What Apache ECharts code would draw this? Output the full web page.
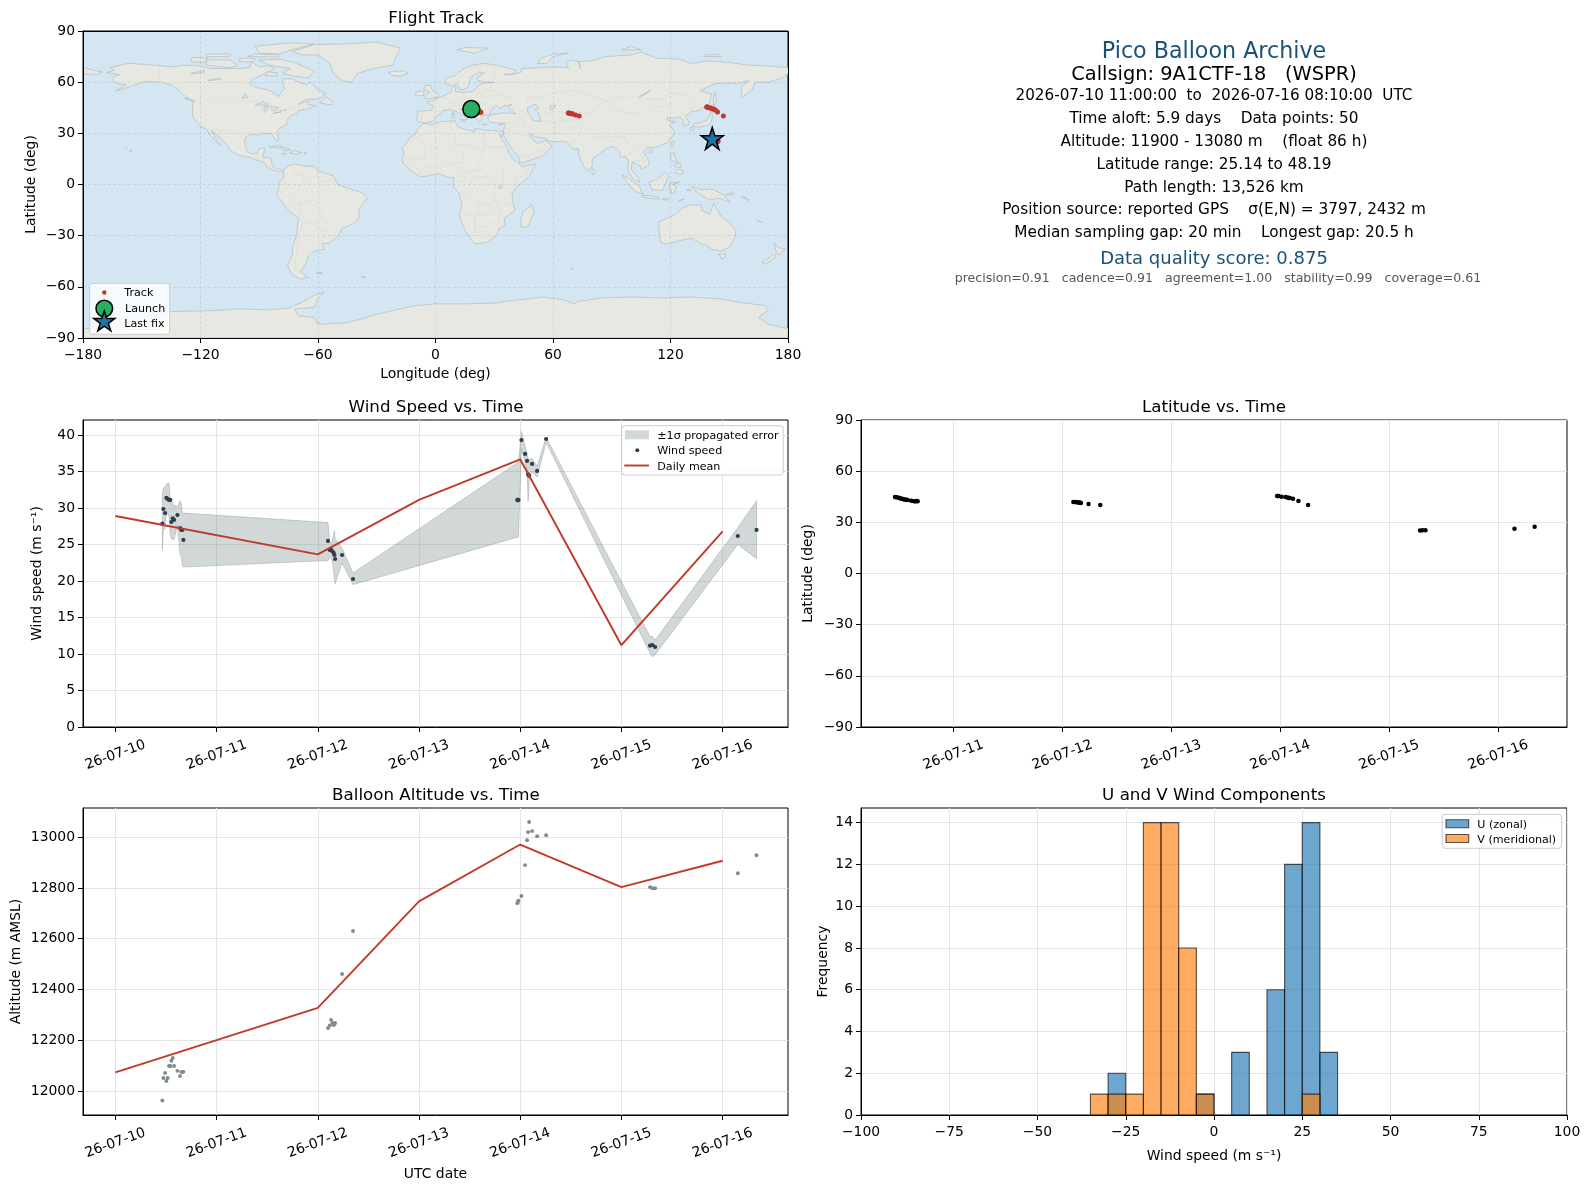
<!DOCTYPE html>
<html>
<head>
<meta charset="utf-8">
<title>Pico Balloon Archive</title>
<style>html,body{margin:0;padding:0;background:#fff}#c{width:1589px;height:1189px}</style>
<script src="https://cdn.jsdelivr.net/npm/echarts@6/dist/echarts.min.js"></script>
</head>
<body>
<div id="c"></div>
<script>
// ---------- time-series values (t = days since 26-07-10 00:00 UTC) ----------
const tDays = [.464,.474,.491,.504,.517,.530,.543,.553,.567,.580,.613,.639,.652,.662,.672,
  2.101,2.118,2.131,2.144,2.157,2.164,2.171,2.240,2.348,
  3.972,3.976,3.983,4.012,4.048,4.068,4.078,4.088,4.117,4.167,4.256,
  5.283,5.306,5.333,6.150,6.335];
const windSpeed = [27.85,29.86,29.3,31.37,31.23,31.1,31.1,28.08,28.58,28.36,29.04,27.26,26.99,26.99,25.62,
  25.48,24.25,24.25,24.06,23.84,23.56,23.01,23.56,20.27,
  31.1,31.05,31.1,39.3,37.4,36.44,34.6,34.4,36.03,35.07,39.45,
  11.14,11.23,10.96,26.16,26.99];
const windUpper = [31.8,32.7,32.9,33.3,33.4,33.4,31.0,30.8,30.7,30.4,30.2,31.0,30.6,29.3,29.3,
  28.0,25.2,25.2,25.6,26.4,26.9,25.8,24.5,21.1,
  36.2,36.3,36.4,40.5,38.45,37.5,36.8,36.6,36.85,35.7,39.7,
  12.4,12.4,11.9,27.3,31.0];
const windLower = [24.2,27.0,27.2,29.4,29.1,28.8,26.2,25.8,25.7,25.7,27.7,23.6,23.4,22.0,21.9,
  22.8,23.2,23.3,22.6,21.3,20.2,19.6,22.5,19.5,
  26.0,26.0,26.0,38.1,36.2,35.25,30.9,33.6,35.0,34.2,39.0,
  10.1,9.6,9.9,25.0,23.06];
const altitude = [11962,12051,12071,12039,12051,12098,12098,12119,12130,12098,12079,12059,12075,12075,12075,
  12248,12258,12280,12268,12260,12264,12268,12461,12630,
  12740,12745,12750,12768,12890,12988,13020,13060,13024,13004,13008,
  12803,12799,12799,12858,12929];
const latitude = [44.9,44.7,44.5,44.2,44.0,43.8,43.6,43.4,43.2,43.1,42.7,42.4,42.4,42.5,42.4,
  41.9,41.9,41.8,41.7,41.6,41.5,41.4,40.7,40.1,
  45.5,45.4,45.4,45.0,44.8,44.5,44.3,44.2,43.9,42.5,40.1,
  25.2,25.3,25.4,26.2,27.4];
const longitude = [18.0,18.4,18.8,19.2,19.6,20.0,20.4,20.8,21.2,21.6,22.0,22.4,22.7,23.0,23.2,
  67.8,68.1,68.5,68.9,69.3,69.7,70.0,71.5,73.4,
  138.5,138.7,139.0,139.7,140.5,141.0,141.5,141.9,142.8,144.0,147.0,
  143.9,144.1,144.3,142.0,141.0];
const launchFix = [18.3, 44.2];
const lastFix = [141.3, 27];
const meanWindDays = [0,2,3,4,5,6];
const meanWind = [28.9,23.65,31.1,36.67,11.2,26.8];
const meanAltDays = [0,2,3,4,5,6];
const meanAlt = [12073,12327,12747,12971,12803,12907];
// ---------- histogram ----------
const uBins = [[-30,-25,2],[-5,0,1],[5,10,3],[15,20,6],[20,25,12],[25,30,14],[30,35,3]];
const vBins = [[-35,-30,1],[-30,-25,1],[-25,-20,1],[-20,-15,14],[-15,-10,14],[-10,-5,8],[-5,0,1],[25,30,1]];
// ---------- ticks ----------
const dateTicks = [0,1,2,3,4,5,6];
const dateLabels = ['26-07-10','26-07-11','26-07-12','26-07-13','26-07-14','26-07-15','26-07-16'];
const latDateTicks = [1,2,3,4,5,6];
const windTicks = [0,5,10,15,20,25,30,35,40];
const altTicks = [12000,12200,12400,12600,12800,13000];
const freqTicks = [0,2,4,6,8,10,12,14];
// ---------- text ----------
const infoLines = [
 ['Pico Balloon Archive',22.2,'#1a5276',52.5,1214],
 ['Callsign: 9A1CTF-18   (WSPR)',19.4,'#000',75,1214],
 ['2026-07-10 11:00:00  to  2026-07-16 08:10:00  UTC',15.2,'#000',96,1214],
 ['Time aloft: 5.9 days    Data points: 50',15.3,'#000',119,1214],
 ['Altitude: 11900 - 13080 m    (float 86 h)',15.3,'#000',142,1214],
 ['Latitude range: 25.14 to 48.19',15.3,'#000',165,1214],
 ['Path length: 13,526 km',15.3,'#000',188,1214],
 ['Position source: reported GPS    σ(E,N) = 3797, 2432 m',15.3,'#000',210.5,1214],
 ['Median sampling gap: 20 min    Longest gap: 20.5 h',15.3,'#000',233.5,1214],
 ['Data quality score: 0.875',18,'#1a5276',259,1214],
 ['precision=0.91   cadence=0.91   agreement=1.00   stability=0.99   coverage=0.61',12.55,'#555',279,1218]
];
// ---------- base map outlines (lon, lat) ----------
const landPolygons = [
 // North America
 [[-168,65.5],[-164,67],[-166,68.5],[-157,71],[-150,70.5],[-141,69.7],[-135,69],[-128,70],[-120,69.5],[-115,68],[-108,68],[-100,68],[-95,68.5],[-94,72],[-90,69],[-85,69.5],[-82,68],[-87,65],[-93,62],[-95,59],[-92,57],[-85,55.3],[-82,53],[-80,51.5],[-79,54],[-77,56],[-78,59],[-78,62],[-73,62],[-70,60],[-66,58.5],[-64,60],[-61,56.5],[-56,53],[-60,50],[-66,50],[-70,47],[-65,49],[-65,47],[-61,46],[-66,44],[-70,43.5],[-71,41.5],[-74,40.5],[-76,37.5],[-76,35],[-79,33.5],[-81,31],[-80,26.5],[-81,25],[-82.5,27.5],[-84,30],[-89,30],[-90,29],[-94,29.5],[-97,28],[-97.5,24],[-96,19],[-94,18],[-91,18.5],[-90,21],[-87,21.5],[-88,17],[-88.5,16],[-84,15.5],[-83.5,12],[-83,10],[-80,9],[-77,8.5],[-78,7.5],[-80,7.5],[-83,8.5],[-86,10],[-87.5,13],[-92,14.5],[-95,16],[-100,17],[-105,20],[-106,23],[-109,26],[-112.5,30],[-114.5,31.5],[-112,27],[-110,23],[-112,25],[-115,29],[-117,32.5],[-120.5,34.5],[-122,37],[-124,40],[-124,46],[-123,49],[-127,51],[-130,54],[-134,58],[-140,60],[-148,60.5],[-152,59],[-158,56.5],[-163,55],[-158,58.5],[-162,59],[-165,61],[-164,63.5],[-161,64.5]],
 // Greenland
 [[-73,78],[-68,76],[-60,76],[-54,71],[-52,65],[-48,61],[-43,60],[-40,65],[-32,68],[-22,70],[-20,75],[-18,80],[-30,83.5],[-45,82.5],[-62,82]],
 // Arctic Canada
 [[-80,73.5],[-72,71.5],[-67,69],[-62,66.5],[-65,62.5],[-72,63.5],[-78,65],[-74,68],[-85,70],[-90,73]],
 [[-90,77],[-80,76.5],[-75,78.5],[-62,82.5],[-75,83],[-92,81]],
 [[-117,70],[-105,68.5],[-101,70],[-105,73],[-117,73]],
 [[-125,72],[-118,71.5],[-116,74],[-124,74.5]],
 [[-96,75],[-80,74.7],[-80,76],[-92,76.5]],
 [[-117,75],[-105,75],[-105,76.5],[-117,76.5]],
 [[-100,72],[-93,72],[-92,74],[-100,74]],
 [[-87,64],[-81,63.5],[-81,65.5],[-86,66]],
 [[-59,47.7],[-53,46.7],[-53,49],[-56,51.5]],
 [[-128,50.5],[-123.5,48.3],[-125,50]],
 // Caribbean, Pacific
 [[-85,22],[-80,23],[-74.2,20.2],[-77.7,19.9],[-78,21.5]],
 [[-74.4,18.5],[-72,20],[-68.5,18.6],[-71.5,17.8]],
 [[-78.3,18.3],[-76.3,18],[-77,17.8]],
 [[-67.2,18.5],[-65.7,18.4],[-66,18]],
 [[-156,19],[-155,19.7],[-156,20.2]],
 [[-158.2,21.3],[-157.7,21.6],[-158,21.7]],
 [[-61,-52],[-58,-51.5],[-58,-52.3]],
 // South America
 [[-77.5,8.5],[-75,11],[-72,12],[-68,11],[-62,10.5],[-60,8],[-52,5],[-50,0],[-44,-2.5],[-37,-5],[-35,-8],[-39,-14],[-39,-19],[-41,-22.5],[-48,-26],[-49,-29],[-54,-34.5],[-58,-34.5],[-57,-38],[-62,-39],[-65,-42],[-66,-46],[-69,-51],[-65,-54.5],[-69,-55.5],[-74,-52],[-75.5,-47],[-73,-41],[-73,-37],[-71,-30],[-70,-20],[-76,-14],[-81,-6],[-80,-2.5],[-80,1],[-77.5,4]],
 // Eurasia
 [[-9,37],[-9.5,38.7],[-9,43],[-2,43.5],[-1,46],[-4.5,48.5],[-1.5,49],[2,51],[4,52],[8,54],[8.5,57],[10.5,57.5],[10,54.5],[14,54],[19,54.5],[21,57],[24,59.3],[30,60],[25,60.3],[21.5,61],[21.5,63],[25,65.3],[22,65.8],[17.5,62.5],[17.5,60],[16.5,57],[14,55.5],[12.5,56],[11,59],[8,58],[5.5,59],[5,62],[10,64],[14,67.5],[19,70],[25,71],[31,70],[41,67],[40,65],[35,64.5],[38,64.2],[44,66],[44,68],[53,68.5],[60,69],[68,68.5],[67,71],[69,73],[73,72],[74,68],[73,72],[80,72.5],[87,75],[100,76],[105,77.7],[113,74],[125,73.5],[130,71],[140,72.5],[150,71.5],[160,70],[170,69.5],[180,68.5],[180,65],[177,62.5],[170,60],[163,60],[162,56],[156.5,51],[156,57],[160,61],[155,59.5],[143,59.3],[135,55],[141,53],[140,48],[135,43.5],[130,42.5],[127.5,39.7],[129.5,37],[129,35],[126.5,34.5],[126.5,37.5],[125,39.5],[121.5,39],[118,39],[119,37.3],[122.5,37],[119.5,35],[122,31],[121,28],[118,24.5],[113,22],[108,21.5],[106,19],[109,14],[109,11.5],[105,8.7],[105,10.5],[100.5,13.5],[100,9],[103.5,4],[104,1.3],[101,3],[98.3,8],[98.5,14],[97,16.5],[94.5,16],[94,19],[91,22.5],[87,21],[82,16.5],[80,15],[80,11],[78,8.2],[76,10],[73.5,16],[72.8,21],[70,21],[69,22.5],[67,25],[61,25.2],[57,25.5],[56.5,27],[51,28],[48.5,30],[48,29.5],[50,26],[52,24],[56,26],[59.5,22.5],[55,17],[52,15.7],[45,13],[43,13],[42.5,16],[39,21],[35,28],[34.5,31.5],[36,36],[32,36],[28,36.5],[26.5,39],[29,41],[35,42],[41,41.5],[38,44.5],[37,45],[39,47],[35,46],[33,44.5],[31,46.5],[28,43],[28,41.2],[26,40.8],[24,40.5],[23,40],[24,38],[22.5,36.5],[19.5,41],[19,42.5],[14,45.5],[12.5,44],[16,41.5],[18.5,40],[16.5,39.5],[16,38],[15,40],[10.5,43],[7,43.8],[3.5,43.3],[3,41.8],[0,39.5],[-0.5,38],[-2,36.8],[-5.5,36]],
 // Chukotka across the date line
 [[-180,68.5],[-175,67],[-170,66],[-173,64.5],[-180,65]],
 // Africa
 [[-6,35.8],[-2,35],[3,36.8],[10,37.3],[11,34],[15,32.3],[20,31],[20,32.8],[25,32],[32,31.2],[34.3,31.3],[34,28],[32.5,30],[33.5,27],[36,23],[37.5,18.5],[39.5,15],[43,12],[44.5,10.5],[51,12],[48,5],[42,-1],[39,-5],[39.5,-10],[40.5,-15],[35,-20],[35.5,-24],[32.5,-26],[31,-30],[26,-34],[20,-34.8],[18,-32],[15,-27],[12,-18],[13.5,-12],[12,-5],[9,-1],[9.5,4],[6,4.3],[2,6.3],[-4,5],[-8,4.5],[-13,8.5],[-16.5,12.5],[-17,15],[-16,19],[-17,21],[-13,27.5],[-10,30],[-9,33]],
 // Australia, Oceania
 [[114,-22],[122,-18],[126,-14],[130,-12],[136,-12],[136,-15.5],[140,-17.5],[142,-11],[146,-19],[150,-22.5],[153.5,-27],[153,-31],[150,-37],[146,-39],[141,-38],[138,-35],[136,-35],[131,-31.5],[124,-33],[118,-35],[115,-34],[114,-26]],
 [[144.7,-40.7],[148.3,-41],[147.5,-43.3],[146,-43.5]],
 [[173,-34.5],[175,-37],[178.5,-37.7],[175.5,-41.5],[174,-39.5]],
 [[172.7,-40.5],[174,-42],[171,-45],[168,-46.7],[166.5,-45.8],[170.5,-43]],
 [[131,-1],[135,-3],[141,-2.7],[147,-6],[150.5,-10.5],[144,-7.8],[141,-9],[138,-8],[133,-4]],
 [[148,-6],[152,-4.5],[152,-6]],
 [[164,-20.5],[167,-22.5],[166,-22]],
 [[156,-7],[159,-8],[160,-9.5]],
 // Antarctica
 [[-180,-90],[-180,-84.5],[-158,-84],[-150,-78],[-135,-74.5],[-115,-74],[-100,-73],[-85,-73.5],[-75,-72.5],[-68,-69],[-62,-65],[-57,-63.3],[-60,-67],[-62,-72],[-72,-73],[-70,-77],[-62,-78],[-60,-82],[-45,-81],[-35,-78],[-30,-76],[-18,-73],[-10,-71],[0,-70],[15,-70],[30,-69.5],[40,-68],[55,-66],[65,-67.5],[71,-70],[73,-68.5],[85,-66.5],[100,-66],[115,-66.5],[130,-66],[145,-67],[155,-69],[168,-71],[170,-73.5],[165,-78],[170,-82],[180,-84.5],[180,-90]],
 // Atlantic, Europe islands
 [[-24,65.5],[-22,64],[-18,63.5],[-14,65],[-16,66.5],[-22,66.3]],
 [[-5.5,50],[1.3,51.2],[1.5,52.8],[-2,56],[-2,57.7],[-5,58.5],[-6,56],[-3,54],[-5,52]],
 [[-10,52],[-6,52.2],[-6,55],[-10,54.2]],
 [[11,79],[20,77],[27,80],[15,80.3]],
 [[52,71],[57,71],[60,75],[68,77],[60,76.5],[54,74]],
 [[95,79],[105,79],[100,81]],
 [[137,75],[146,75],[145,76],[138,76]],
 [[12.5,38],[15.5,38],[15,36.7]],
 [[8.3,39],[9.7,39],[9.7,41],[8.3,41]],
 [[8.7,41.5],[9.5,41.5],[9.4,43],[8.7,42.5]],
 [[23.5,35.3],[26.3,35],[26,35.3]],
 [[32.5,35],[34.5,35.6],[33,34.7]],
 [[69,-49],[70,-49],[70,-50]],
 [[-38,-54],[-36,-54],[-36,-55]],
 // Asia islands
 [[142,46],[143.5,49],[143,54],[142,52]],
 [[140,42],[143.5,42.3],[145,43.5],[142,45.5],[141,43]],
 [[131,34.2],[135,33.7],[140,35],[141,38],[141.5,41],[140,41],[139,38],[136,36.5],[132,35.5]],
 [[130,33.5],[132,33],[131,31],[130,31.5]],
 [[120,23],[121,22],[122,25],[121,25.3]],
 [[108.7,19],[110.5,18.3],[111,20],[109.5,20]],
 [[80,9.7],[81.8,7.5],[81,6],[80,6]],
 [[120,16],[120.5,18.5],[122,18.5],[122,16],[124,13],[120.5,14]],
 [[122,7],[125.5,5.8],[126.5,8],[123.5,9]],
 [[122,10.5],[125,10],[125,12.5],[122.5,12]],
 [[109,1.5],[113,3],[117,7],[119,5],[117.5,1],[116,-3.5],[110.5,-3]],
 [[95.5,5.5],[98,4],[104,-1],[106,-5.7],[102,-4],[98,1]],
 [[105.5,-6.5],[110,-6.5],[114.5,-7.7],[114,-8.7],[106,-7.5]],
 [[120,-5.5],[120.5,-3],[119,-3],[120,1],[125,1.5],[121,0],[123,-1],[122,-4.5]],
 [[116,-8.5],[119,-8.3],[119,-9],[116,-9]],
 [[124,-10],[127,-8.5],[125,-9]],
 [[128,-3],[130.5,-3],[130,-3.5]],
 [[49.3,-12],[50.4,-16],[47,-25],[44,-25],[43.5,-21],[44.5,-16]]
];
const lakePolygons = [
 [[47,45],[51,47],[53,45],[51,44],[53,41],[54,37],[50,37.3],[49,39],[47,43]],
 [[58.5,46.5],[61.5,46.5],[60,44],[58.5,44]],
 [[-92,46.7],[-88,48.5],[-85,47],[-87,46.5]],
 [[-87.5,42],[-86,44],[-85,46],[-87.5,45.5]],
 [[-84,46],[-80,45],[-82,43],[-84,44]],
 [[-83,41.7],[-79,42.8],[-79,42.5]],
 [[-79.5,43.3],[-76,44],[-76.5,43.4]],
 [[-125,65],[-118,67],[-118,65.5]],
 [[-116,61],[-110,62.5],[-110,61.5]],
 [[-99,50.5],[-97,53.5],[-96,51]],
 [[104,51.5],[110,55.5],[109.5,55],[106,52]],
 [[32,-2],[34,0],[34,-2.5]]
];
const borderLines = [
 [[-141,69.7],[-141,60],[-135,59],[-130,55]],
 [[-123,49],[-95,49],[-89,48],[-84,46.5],[-82,43],[-79,43],[-75,45],[-71,45],[-69,47],[-67,45]],
 [[-117,32.5],[-108,31.5],[-106,31.5],[-101,29.5],[-97.5,26]],
 [[-92,14.5],[-91,17.5],[-89,17.8],[-88.5,16]],[[-83.5,11],[-85.5,11],[-87.5,13]],[[-88.5,16],[-87,13.5]],
 [[-72,12],[-72.5,7.5],[-67.5,6],[-67,1.5],[-70,-1],[-70,-4.2],[-73,-7],[-73.5,-11],[-69,-11],[-69,-16],[-70,-18]],
 [[-79,1.5],[-75,0],[-75.5,-2],[-78.5,-4.5],[-80.5,-3.5]],
 [[-69,-11],[-65,-10],[-60,-14],[-58,-17],[-58,-20]],
 [[-70,-18],[-68,-23],[-70,-30],[-71,-40],[-72,-50],[-68.5,-52.5]],
 [[-68,-23],[-62,-22],[-58,-20]],[[-62,-22],[-58,-27],[-54.5,-26],[-55,-24],[-58,-20]],
 [[-58,-34],[-57.5,-30],[-53.5,-33.7]],[[-54.5,-26],[-57.5,-30]],
 [[-60,8],[-60,5],[-64,4],[-64,2],[-67,1.5]],[[-60,5],[-59,1.5],[-55,2.2],[-52,3.5]],[[-57,6],[-55,2.2]],
 [[-2,35],[-1.5,32],[-8.5,28],[-13,27.5]],[[8,37],[8,33],[9.5,30],[10,24.5],[12,23.5]],
 [[-8.5,27],[-5,25],[3,19],[6,19],[12,23.5]],[[-13,21.5],[-6,25],[-5.5,15.5],[-12,15],[-16,16]],
 [[25,32],[25,20]],[[25,22],[36.5,22]],[[25,20],[15,23],[12,23.5]],[[15,23],[13.5,14]],[[3.5,12],[14,13]],
 [[24,20],[22,13],[24,9]],[[14,13],[12,7],[8.5,4.5]],[[36.5,15],[34,10],[35,5]],[[43,11],[48,8],[45,5],[41,4],[41,-2]],
 [[35,5],[34,0],[34,-1],[39,-5]],[[30,-1],[34,-1]],[[30,-8.5],[35,-11.5],[40,-10.5]],
 [[12,-6],[17,-6],[22,-11],[28,-12],[30,-8.5],[30,-1],[31,3],[27,5],[19,4],[17,-1],[12.5,-5]],
 [[15,7],[24,9]],[[15,7],[15,2],[10,2]],[[12,-17],[23,-18]],[[20,-18],[20,-28],[16.5,-28.7]],
 [[20,-25],[26,-25],[29,-22],[32,-22.5]],[[22,-11],[22,-16],[25,-18],[33,-15],[30,-8.5]],[[33,-15],[32,-22]],
 [[-8,8],[-5,10],[3,11],[2,6.3]],[[-5,10],[-3,5]],[[-12,12],[-8,8],[-8,4.5]],[[-16,13.5],[-12,12.5],[-5.5,15.5]],
 [[-9,42],[-7,41.5],[-7,37]],[[-2,43.5],[3,42.5]],[[2.5,51],[6,49.5],[8,49],[7.5,47.5]],
 [[14,54],[15,51],[12,50.3],[13,48.5],[7.5,47.5]],[[7,44],[7,46],[13.5,46.5],[14,45.5]],
 [[19,54.5],[23,54],[24,50.5],[22.5,49],[19,49.5],[15,51]],[[40,49.5],[34,52],[24,51.5]],[[22.5,48],[28,45.5],[30,46]],
 [[19,46],[22.5,48]],[[19,42.5],[22,44],[28,44]],[[20,40],[26,41.5]],[[28,56],[28,59.5]],[[24,56],[31,55],[31,52]],
 [[28,60],[31,63],[29,70]],[[11,59],[12,63],[20,69],[29,70]],[[24,66],[20,69]],
 [[47,48],[47,51],[55,51],[61,54],[70,55],[77,53],[87,49],[98,52],[106,50],[116,50],[120,53.5],[126,53],[135,48.5],[131,45],[130.5,42.5]],
 [[87,49],[91,45],[96,42.5],[105,41.5],[112,45],[120,47],[116,50]],
 [[53,42],[56,45],[56,41],[62,43.5],[69,41],[71,42.5],[80,42],[83,47],[87,49]],
 [[54,37.5],[61,36.5],[66,37.5],[70,37],[74,38.5],[80,42]],[[56,41],[61,41],[66,38]],
 [[61,30],[66,29.5],[71,34],[74,37]],[[61,36.5],[61,30],[61.5,25]],[[68,24],[71,25],[74.5,31],[74,36]],
 [[74,36],[79,32.5],[81,30],[88,28],[97,28],[93,22],[92,21]],[[88,26],[92,25]],[[81,30],[80,28],[88,26]],
 [[97,28],[98,24],[101,21],[105,23],[108,21.5]],[[98,16],[101,20]],[[101,21],[104,18],[107,14],[106,11]],[[100,13.5],[103,14],[107,14]],
 [[100.5,6.5],[102,6]],[[124.5,40],[130.5,42.5]],[[126,38],[128.5,38.5]],
 [[36,36.5],[42,37],[44.5,39.5],[42,41.5]],[[42,37],[41,34],[36,33],[35,33]],[[44.5,37],[46,33],[48.5,30]],
 [[34.8,29.5],[39,32],[44,29],[48,28.7]],[[43,16.7],[47,17],[52,19],[55,20],[56,24.5]],[[37,45],[48,42]],
 [[141,-2.7],[141,-9]],[[110,1.5],[115,4],[117.5,4.2]]
];

// ---------- drawing ----------
const FONT = '"DejaVu Sans"';
const RED = '#c0392b', NAVY = '#2c3e50', SLATE = '#7f8c8d';
const GRIDS = [
  {left:83, top:31, width:705, height:307},
  {left:83, top:420, width:705, height:307},
  {left:861, top:420, width:706, height:307},
  {left:83, top:808, width:705, height:307},
  {left:861, top:808, width:706, height:307}
];
const zip = (a,b) => a.map((v,i) => [v,b[i]]);
const minusFmt = v => String(v).replace('-','\u2212');
const gridLine = {show:true, lineStyle:{color:'#e4e4e4', width:1}};
function axisBase(idx, extra){
  return Object.assign({
    gridIndex: idx, type:'value', scale:false,
    axisLine:{show:true, onZero:false, lineStyle:{color:'#000', width:1}},
    axisTick:{show:true, length:5, lineStyle:{color:'#000', width:1}},
    axisLabel:{color:'#000', fontFamily:FONT, fontSize:13.9, margin:8, hideOverlap:false, showMinLabel:true, showMaxLabel:true, formatter:minusFmt},
    splitLine:gridLine,
    nameLocation:'middle',
    nameTextStyle:{color:'#000', fontFamily:FONT, fontSize:13.9}
  }, extra);
}
function dateAxis(idx, min, max, ticks, extra){
  const ax = axisBase(idx, Object.assign({min, max}, extra));
  ax.axisTick = Object.assign({}, ax.axisTick, {customValues:ticks});
  ax.axisLabel = Object.assign({}, ax.axisLabel, {customValues:ticks, rotate:20, align:'center', verticalAlign:'middle', margin:28, formatter:v => dateLabels[Math.round(v)]});
  return ax;
}
function numAxis(idx, min, max, ticks, extra, labelExtra){
  const ax = axisBase(idx, Object.assign({min, max}, extra));
  ax.axisTick = Object.assign({}, ax.axisTick, {customValues:ticks});
  ax.axisLabel = Object.assign({}, ax.axisLabel, {customValues:ticks}, labelExtra);
  return ax;
}
const yLabel = {padding:[4,0,0,0]};
const xLabel = {margin:10};
const mapGridLine = {show:true, lineStyle:{color:'rgba(0,0,0,0.10)', width:0.8, type:[3,2]}};
const xAxes = [
  numAxis(0,-180,180,[-180,-120,-60,0,60,120,180],{name:'Longitude (deg)', nameGap:29, splitLine:mapGridLine, z:1}, xLabel),
  dateAxis(1,-0.32,6.646,dateTicks,{}),
  dateAxis(2,0.152,6.632,latDateTicks,{}),
  dateAxis(3,-0.32,6.646,dateTicks,{name:'UTC date', nameGap:52}),
  numAxis(4,-100,100,[-100,-75,-50,-25,0,25,50,75,100],{name:'Wind speed (m s\u207B\u00B9)', nameGap:34}, xLabel)
];
const yAxes = [
  numAxis(0,-90,90,[-90,-60,-30,0,30,60,90],{name:'Latitude (deg)', nameGap:45, splitLine:mapGridLine, z:1}, yLabel),
  numAxis(1,0,42.05,windTicks,{name:'Wind speed (m s\u207B\u00B9)', nameGap:39}, yLabel),
  numAxis(2,-90,90,[-90,-60,-30,0,30,60,90],{name:'Latitude (deg)', nameGap:46}, yLabel),
  numAxis(3,11905,13115,altTicks,{name:'Altitude (m AMSL)', nameGap:60}, yLabel),
  numAxis(4,0,14.7,freqTicks,{name:'Frequency', nameGap:31}, yLabel)
];
function polygonSeries(polys, fill, stroke, z){
  return {type:'custom', xAxisIndex:0, yAxisIndex:0, z, silent:true, clip:true, animation:false,
    coordinateSystem:'cartesian2d',
    data:polys.map((_,i)=>[i]), encode:{x:0,y:0},
    renderItem:(p,api)=>({type:'polygon',
      shape:{points:polys[api.value(0)].map(c=>api.coord(c))},
      style:{fill, stroke, lineWidth:0.7}})};
}
const borderSeries = {type:'custom', xAxisIndex:0, yAxisIndex:0, z:0, silent:true, clip:true, animation:false,
    data:borderLines.map((_,i)=>[i]), encode:{x:0,y:0},
    renderItem:(p,api)=>({type:'polyline',
      shape:{points:borderLines[api.value(0)].map(c=>api.coord(c))},
      style:{fill:null, stroke:'#dcdcd6', lineWidth:0.7}})};
function histSeries(name, bins, fill, z){
  return {name, type:'custom', xAxisIndex:4, yAxisIndex:4, z, clip:true, silent:true, animation:false,
    data:bins, encode:{x:[0,1],y:2},
    renderItem:(p,api)=>{
      const a=api.coord([api.value(0),api.value(2)]), b=api.coord([api.value(1),0]);
      return {type:'rect', shape:{x:a[0],y:a[1],width:b[0]-a[0],height:b[1]-a[1]},
        style:{fill, stroke:'rgba(0,0,0,0.65)', lineWidth:1.1}};
    }};
}
const bandSeries = {name:'\u00B11\u03C3 propagated error', type:'custom', xAxisIndex:1, yAxisIndex:1, z:1, clip:true, silent:true, animation:false,
  data:[[0]], encode:{x:0,y:0},
  renderItem:(p,api)=>{
    const up=zip(tDays,windUpper).map(c=>api.coord(c));
    const lo=zip(tDays,windLower).map(c=>api.coord(c)).reverse();
    return {type:'polygon', shape:{points:up.concat(lo)}, style:{fill:'rgba(127,140,141,0.35)', stroke:'rgba(127,140,141,0.35)', lineWidth:1}};
  }};
function dots(name, xi, data, color, size, z){
  return {name, type:'scatter', xAxisIndex:xi, yAxisIndex:xi, data, symbol:'circle', symbolSize:size, z:z||3, silent:true, animation:false,
    itemStyle:{color, opacity:1}};
}
function meanLine(name, xi, data){
  return {name, type:'line', xAxisIndex:xi, yAxisIndex:xi, data, showSymbol:false, symbol:'none', z:4, silent:true, animation:false,
    lineStyle:{color:RED, width:1.9}};
}
const STAR = 'path://M50 0 L61.2 34.5 L97.6 34.5 L68.2 55.9 L79.4 90.5 L50 69.1 L20.6 90.5 L31.8 55.9 L2.4 34.5 L38.8 34.5 Z';
const series = [
  polygonSeries(landPolygons,'#e8e8e3','#b2bcc0',0),
  polygonSeries(lakePolygons,'#d4e6f1','#b2bcc0',0),
  borderSeries,
  dots('Track',0,zip(longitude,latitude),RED,5,3),
  {name:'Launch', type:'scatter', xAxisIndex:0, yAxisIndex:0, data:[launchFix], symbol:'circle', symbolSize:17, z:4, silent:true, animation:false,
    itemStyle:{color:'#27ae60', borderColor:'#000', borderWidth:1.5, opacity:1}},
  {name:'Last fix', type:'scatter', xAxisIndex:0, yAxisIndex:0, data:[lastFix], symbol:STAR, symbolSize:22, z:4, silent:true, animation:false,
    itemStyle:{color:'#2471a3', borderColor:'#000', borderWidth:1.5, opacity:1}},
  bandSeries,
  dots('Wind speed',1,zip(tDays,windSpeed),NAVY,4.2,3),
  meanLine('Daily mean',1,zip(meanWindDays,meanWind)),
  dots('Latitude',2,zip(tDays,latitude),'#000',4.5,3),
  dots('Altitude',3,zip(tDays,altitude),SLATE,3.9,3),
  meanLine('Daily mean altitude',3,zip(meanAltDays,meanAlt)),
  histSeries('U (zonal)',uBins,'rgba(31,119,180,0.65)',2),
  histSeries('V (meridional)',vBins,'rgba(255,127,14,0.65)',3)
];
const titles = [
  ['Flight Track',436,19],['Wind Speed vs. Time',436,407.5],['Latitude vs. Time',1214,407.5],
  ['Balloon Altitude vs. Time',436,796],['U and V Wind Components',1214,796]
];
const titleOpt = titles.map(t=>({text:t[0], left:t[1], top:t[2], textAlign:'center', textVerticalAlign:'middle',
   textStyle:{color:'#000', fontFamily:FONT, fontSize:16.7, fontWeight:'normal'}, padding:0}))
 .concat(infoLines.map(l=>({text:l[0], left:l[4], top:l[3], textAlign:'center', textVerticalAlign:'middle',
   textStyle:{color:l[2], fontFamily:FONT, fontSize:l[1], fontWeight:'normal'}, padding:0})));

// legends and frames
function box(x,y,w,h){return {type:'rect', z:20, silent:true, shape:{x,y,width:w,height:h,r:3}, style:{fill:'rgba(255,255,255,0.8)', stroke:'#ccc', lineWidth:1}};}
function label(t,x,y){return {type:'text', z:21, silent:true, style:{text:t, x, y:y+1, fill:'#000', fontFamily:FONT, fontSize:11.1, align:'left', verticalAlign:'middle'}};}
function patch(x,y,w,h,fill,stroke){return {type:'rect', z:21, silent:true, shape:{x,y,width:w,height:h}, style:{fill, stroke:stroke||null, lineWidth:1.1}};}
function dot(cx,cy,r,fill,stroke,lw){return {type:'circle', z:21, silent:true, shape:{cx,cy,r}, style:{fill, stroke:stroke||null, lineWidth:lw||0}};}
const starPts = [[50,0],[61.2,34.5],[97.6,34.5],[68.2,55.9],[79.4,90.5],[50,69.1],[20.6,90.5],[31.8,55.9],[2.4,34.5],[38.8,34.5]];
const graphics = [
  {type:'rect', z:15, silent:true, shape:{x:GRIDS[0].left+.5,y:GRIDS[0].top+.5,width:GRIDS[0].width,height:GRIDS[0].height}, style:{fill:null,stroke:'#000',lineWidth:1}},
  box(89.7,283.3,80,51), dot(104.3,292.5,2.2,RED), label('Track',124.3,292.3),
  dot(104.3,308.5,8.3,'#27ae60','#000',1.5), label('Launch',125,308.5),
  {type:'polygon', z:21, silent:true, shape:{points:starPts.map(p=>[93.3+p[0]*0.22,311+p[1]*0.22])}, style:{fill:'#2471a3',stroke:'#000',lineWidth:1.5}},
  label('Last fix',124.3,323),
  box(621.7,425.7,161.5,49.3), patch(625,430.3,24,9,'rgba(127,140,141,0.35)'), label('\u00B11\u03C3 propagated error',657.3,435.2),
  dot(637.3,450.3,2,NAVY), label('Wind speed',657.3,450.3),
  {type:'line', z:21, silent:true, shape:{x1:624.3,y1:465.5,x2:649,y2:465.5}, style:{stroke:RED,lineWidth:1.9}}, label('Daily mean',657.3,466),
  box(1442.3,814.3,119.4,34), patch(1446,819.7,22.7,8,'rgba(31,119,180,0.65)','rgba(0,0,0,0.65)'), label('U (zonal)',1477.3,824.3),
  patch(1446,834.5,22.7,8,'rgba(255,127,14,0.65)','rgba(0,0,0,0.65)'), label('V (meridional)',1477.3,839.3)
];

const chart = echarts.init(document.getElementById('c'), null, {renderer:'canvas', width:1589, height:1189});
chart.setOption({
  animation:false,
  backgroundColor:'#fff',
  title:titleOpt,
  grid:GRIDS.map((g,i)=>Object.assign({}, g, {show:true, containLabel:false, borderColor:'#000', borderWidth:1, backgroundColor:i===0?'#d4e6f1':'#fff', z:-1})),
  xAxis:xAxes, yAxis:yAxes, series, graphic:{elements:graphics}
});
</script>
</body>
</html>
